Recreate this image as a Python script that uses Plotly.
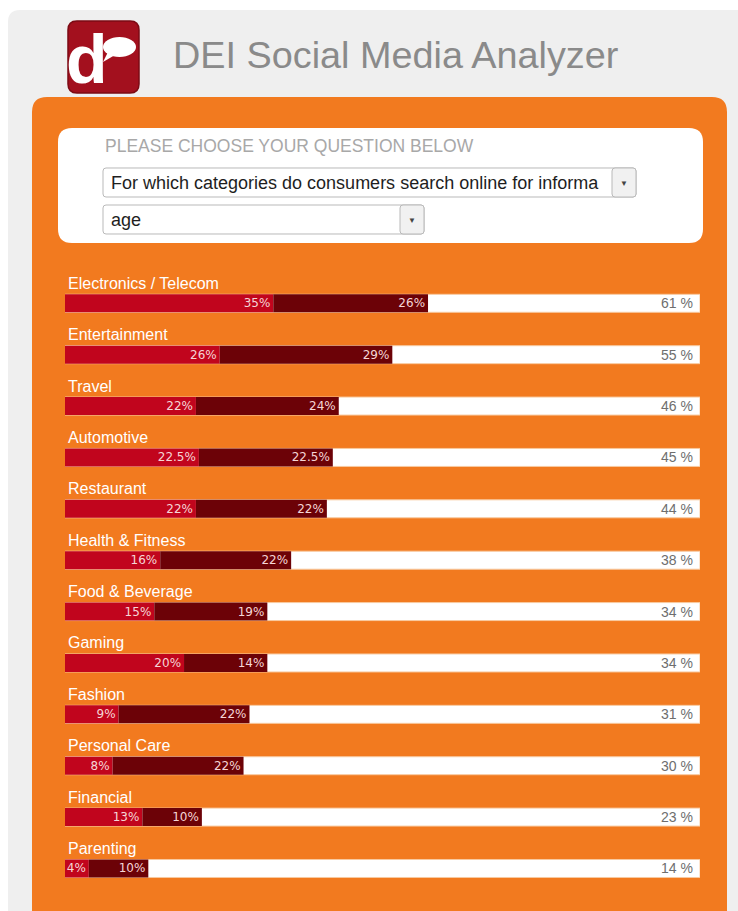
import plotly.graph_objects as go

# ---- data -------------------------------------------------------------
categories = [
    "Electronics / Telecom", "Entertainment", "Travel", "Automotive",
    "Restaurant", "Health & Fitness", "Food & Beverage", "Gaming",
    "Fashion", "Personal Care", "Financial", "Parenting",
]
first_share = [35, 26, 22, 22.5, 22, 16, 15, 20, 9, 8, 13, 4]
second_share = [26, 29, 24, 22.5, 22, 22, 19, 14, 22, 22, 10, 10]
totals = [a + b for a, b in zip(first_share, second_share)]
TRACK_MAX = 106.7  # value reached by the full white track

W, H = 738, 911
ORANGE = "#f27a1f"
RED = "#c1051d"
MAROON = "#6c0207"


def px(x):
    return x / W


def py(y):
    return 1 - y / H


def rrect(x0, y0, x1, y1, r):
    """Rounded rectangle path in paper units from pixel coordinates."""
    pts = [
        ("M", [(x0 + r, y0)]),
        ("L", [(x1 - r, y0)]), ("Q", [(x1, y0), (x1, y0 + r)]),
        ("L", [(x1, y1 - r)]), ("Q", [(x1, y1), (x1 - r, y1)]),
        ("L", [(x0 + r, y1)]), ("Q", [(x0, y1), (x0, y1 - r)]),
        ("L", [(x0, y0 + r)]), ("Q", [(x0, y0), (x0 + r, y0)]),
    ]
    s = ""
    for cmd, coords in pts:
        s += cmd + " " + " ".join(f"{px(a):.5f},{py(b):.5f}" for a, b in coords) + " "
    return s + "Z"


shapes = []


def add_rr(x0, y0, x1, y1, r, fill, line=None, lw=0):
    shapes.append(dict(type="path", xref="paper", yref="paper", layer="below",
                       path=rrect(x0, y0, x1, y1, r), fillcolor=fill,
                       line=dict(color=line or fill, width=lw)))


# page frame, orange board, question card
add_rr(8, 10, 760, 940, 12, "#efefef")
add_rr(32, 97, 727, 960, 15, ORANGE)
add_rr(58, 128, 703, 243, 14, "#ffffff")

# dropdowns
for (x0, x1, y0, y1) in [(103, 636, 168, 197), (103, 424, 205, 234)]:
    add_rr(x0, y0, x1, y1, 3, "#ffffff", "#b9b9b9", 1)
    add_rr(x1 - 24, y0, x1, y1, 3, "#f1f1f1", "#b9b9b9", 1)

# logo tile
add_rr(68, 21, 139, 93, 9, "#a3101e", "#7c0a14", 1.5)
shapes.append(dict(type="circle", xref="paper", yref="paper",
                   x0=px(103), x1=px(136), y0=py(37), y1=py(57),
                   fillcolor="#ffffff", line=dict(width=0)))
shapes.append(dict(type="path", xref="paper", yref="paper",
                   path=f"M {px(108)},{py(52)} L {px(103)},{py(62)} L {px(115)},{py(55)} Z",
                   fillcolor="#ffffff", line=dict(width=0)))

annotations = [
    dict(text="d", x=px(87), y=py(59), xref="paper", yref="paper",
         showarrow=False, xanchor="center", yanchor="middle",
         font=dict(family="Liberation Sans Narrow, Arial", size=68, color="#ffffff", weight="bold")),
    dict(text="DEI Social Media Analyzer", x=px(171), y=py(55), xref="paper", yref="paper",
         showarrow=False, xanchor="left", yanchor="middle",
         font=dict(family="Liberation Sans, Arial", size=37.8, color="#8a8a8a")),
    dict(text="PLEASE CHOOSE YOUR QUESTION BELOW", x=px(103), y=py(146), xref="paper", yref="paper",
         showarrow=False, xanchor="left", yanchor="middle",
         font=dict(family="Liberation Sans, Arial", size=17.5, color="#a8a8a8")),
    dict(text="For which categories do consumers search online for informa", x=px(109), y=py(182.5),
         xref="paper", yref="paper", showarrow=False, xanchor="left", yanchor="middle",
         font=dict(family="Liberation Sans, Arial", size=18, color="#1e1e1e")),
    dict(text="age", x=px(109), y=py(219.5), xref="paper", yref="paper",
         showarrow=False, xanchor="left", yanchor="middle",
         font=dict(family="Liberation Sans, Arial", size=18, color="#1e1e1e")),
]
for xc, yc in [(624, 182.5), (412, 219.5)]:
    annotations.append(dict(text="▼", x=px(xc), y=py(yc), xref="paper", yref="paper",
                            showarrow=False, xanchor="center", yanchor="middle",
                            font=dict(size=8, color="#444444")))

# category captions above each track and totals at the track's right end
for cat, tot in zip(categories, totals):
    annotations.append(dict(text=cat, x=px(66), y=cat, xref="paper", yref="y",
                            yshift=20, showarrow=False, xanchor="left", yanchor="middle",
                            font=dict(family="Liberation Sans, Arial", size=16, color="#ffffff")))
    annotations.append(dict(text=f"{tot:g} %", x=TRACK_MAX, y=cat, xref="x", yref="y",
                            xshift=-5, showarrow=False, xanchor="right", yanchor="middle",
                            font=dict(family="Liberation Sans, Arial", size=14, color="#6e6e6e")))

BAR_W = 0.35
seg_font = dict(family="DejaVu Sans", size=12, color="#f5d6d6")

fig = go.Figure()
fig.add_trace(go.Bar(
    y=categories, x=[TRACK_MAX] * len(categories), base=0, orientation="h",
    width=BAR_W, marker=dict(color="#ffffff", line=dict(color="#f8caa0", width=1)),
    hoverinfo="skip", showlegend=False))
fig.add_trace(go.Bar(
    y=categories, x=first_share, base=0, orientation="h", width=BAR_W,
    marker=dict(color=RED, line=dict(width=0)),
    text=[f"{v:g}%" for v in first_share], textposition="inside",
    insidetextanchor="end", constraintext="none", textfont=seg_font,
    hoverinfo="skip", showlegend=False))
fig.add_trace(go.Bar(
    y=categories, x=second_share, base=first_share, orientation="h", width=BAR_W,
    marker=dict(color=MAROON, line=dict(width=0)),
    text=[f"{v:g}%" for v in second_share], textposition="inside",
    insidetextanchor="end", constraintext="none", textfont=seg_font,
    hoverinfo="skip", showlegend=False))

n = len(categories)
first_c, step = 303.3, 51.38
top_px = first_c - step / 2
bot_px = first_c + (n - 1) * step + step / 2

fig.update_layout(
    width=W, height=H, margin=dict(l=0, r=0, t=0, b=0),
    paper_bgcolor="#ffffff", plot_bgcolor="rgba(0,0,0,0)",
    barmode="overlay", shapes=shapes, annotations=annotations,
    xaxis=dict(domain=[px(65), px(700)], range=[0, TRACK_MAX], visible=False, fixedrange=True),
    yaxis=dict(domain=[py(bot_px), py(top_px)], type="category",
               categoryorder="array", categoryarray=categories,
               range=[n - 0.5, -0.5], visible=False, fixedrange=True),
)

fig.write_html("out.html")
